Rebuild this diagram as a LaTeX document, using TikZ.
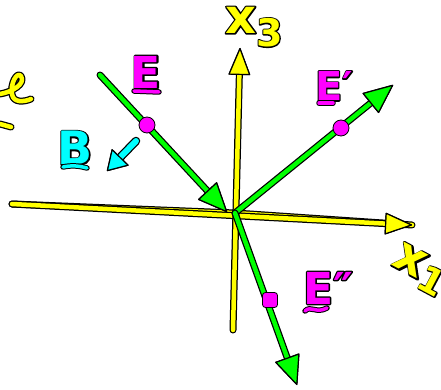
\documentclass[tikz,border=0pt]{standalone}
\usepackage{fontspec}
\setmainfont{DejaVu Sans}
\newfontfamily\facefont{DejaVu Sans Bold}
\newfontfamily\edgefont[FakeBold=6]{DejaVu Sans Bold}
\usetikzlibrary{arrows.meta, positioning}

\definecolor{axisyellow}{RGB}{255,255,0}
\definecolor{vecgreen}{RGB}{0,255,0}
\definecolor{dotpink}{RGB}{255,0,255}
\definecolor{bcyan}{RGB}{0,255,255}

% coloured letters with a black edge
\newcommand{\edged}[2]{\leavevmode\rlap{\edgefont\color{black}#2}{\facefont\color{#1}#2}}

\begin{document}
\begin{tikzpicture}[x=1pt, y=-1pt, line cap=round, line join=round]

\tikzstyle{axis} = [draw=axisyellow, line width=4.5pt, preaction={draw=black, line width=7pt}]
\tikzstyle{vec} = [draw=vecgreen, line width=4.5pt, preaction={draw=black, line width=7pt}]
\tikzstyle{ulpink} = [draw=dotpink, line width=3.5pt, preaction={draw=black, line width=5.5pt}]
\tikzstyle{ulcyan} = [draw=bcyan, line width=3.5pt, preaction={draw=black, line width=5.5pt}]
\tikzstyle{ytip} = [-{Triangle[round, length=28pt 0, width=22pt 0, line width=1.2pt, color=black, fill=axisyellow]}]
\tikzstyle{gtip} = [-{Triangle[round, length=30pt 0, width=26pt 0, line width=1.2pt, color=black, fill=vecgreen]}]
\tikzstyle{dot} = [circle, fill=dotpink, draw=black, line width=0.8pt, minimum size=16pt, inner sep=0pt]
\tikzstyle{lbl} = [inner sep=0pt, font=\fontsize{44}{46}\selectfont]

\useasboundingbox (0,0) rectangle (441,390);

% Nodes
\coordinate (O) at (235,213);
\coordinate (x1l) at (12,204);
\coordinate (x1r) at (412,225);
\coordinate (x3b) at (233,330);
\coordinate (x3t) at (240,48);
\coordinate (e1s) at (100,75);
\coordinate (e1t) at (227,212);
\coordinate (e2t) at (393,85);
\coordinate (e3t) at (297,385);
\coordinate (bs) at (136,141);
\coordinate (bt) at (107,171);

\node[lbl] (xthree) at (254,27) {\edged{axisyellow}{\fontsize{48}{48}\selectfont x\raisebox{-0.5ex}{\fontsize{38}{38}\selectfont 3}}};
\node[lbl, rotate=-28] (xone) at (420,270) {\edged{axisyellow}{\fontsize{48}{48}\selectfont x\raisebox{-0.3ex}{\fontsize{36}{36}\selectfont 1}}};
\node[lbl] (labE) at (146,72) {\edged{dotpink}{E}};
\node[lbl, font=\fontsize{40}{42}\selectfont] (labEp) at (334,86) {\edged{dotpink}{E′}};
\node[lbl] (labEpp) at (328,288) {\edged{dotpink}{E″}};
\node[lbl, font=\fontsize{46}{48}\selectfont] (labB) at (75,148) {\edged{bcyan}{B}};

% Connections
\draw[axis] (x1l) -- (O) -- (x1r);
\draw[axis, ytip] (x1l) -- (x1r);
\draw[axis, ytip] (x3b) -- (x3t);
\draw[axis] (0,94) .. controls (12,92) and (26,84) .. (21,76)
  .. controls (17,71) and (10,84) .. (12,94)
  .. controls (13,103) and (24,102) .. (31,99);
\draw[axis] (0,124) -- (11,127);

\draw[vec, gtip] (e1s) -- (e1t);
\draw[vec, gtip] (O) -- (e2t);
\draw[vec, gtip] (O) -- (e3t);
\draw[draw=bcyan, line width=6pt, preaction={draw=black, line width=8.5pt},
  -{Triangle[round, length=20pt 0, width=24pt 0, line width=1.2pt, color=black, fill=bcyan]}] (bs) -- (bt);

% underlines
\draw[ulpink] (134,91) -- (159,92);
\draw[ulpink] (319,103) -- (333,103);
\draw[ulpink] (305,311) .. controls (311,305) and (316,314) .. (327,308);
\draw[ulcyan] (63,167) .. controls (72,165) and (80,166) .. (87,168);

\node[dot] (d1) at (147,125) {};
\node[dot] (d2) at (341,128) {};
\node[dot, rectangle, rounded corners=3pt, minimum size=15pt] (d3) at (270,300) {};

\end{tikzpicture}
\end{document}
